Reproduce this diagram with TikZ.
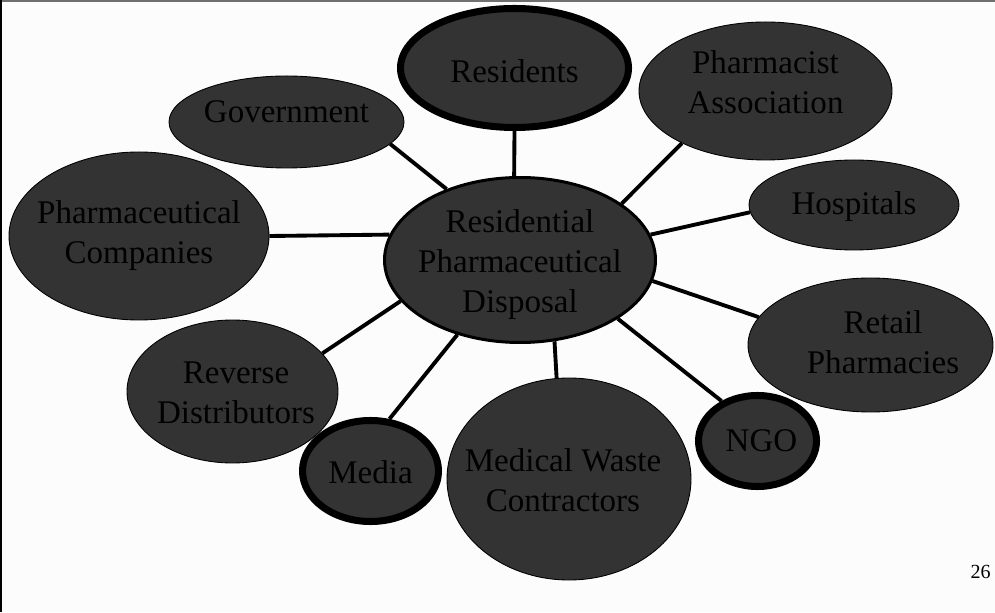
\documentclass[tikz,border=0pt]{standalone}
\usepackage{fontspec}
\setmainfont{Liberation Serif}
\usetikzlibrary{shapes}
\definecolor{bubble}{RGB}{51,51,51}
\definecolor{paper}{RGB}{252,252,252}
\definecolor{rim}{RGB}{112,112,112}
\tikzstyle{party} = [draw,ellipse,fill=bubble,inner sep=0,line width=0.5pt]
\tikzstyle{keyparty} = [party,line width=4pt]
\tikzstyle{hub} = [party,line width=1.7pt]
\tikzstyle{word} = [align=center,inner sep=0,font=\fontsize{18.8}{22.8}\selectfont]
\tikzstyle{link} = [-,line width=2.2pt]
\def \W {19.9}
\def \H {12.24}

\begin{document}
\begin{tikzpicture}
  \fill[paper] (0,0) rectangle (\W,\H);
  \useasboundingbox (0,0) rectangle (\W,\H);
  \fill[rim] (0,\H-0.04) rectangle (\W,\H);
  \fill[black] (0,0) rectangle (0.04,\H);

  \node[hub,minimum width=5.42cm,minimum height=3.30cm] (disp) at (10.40,7.04) {};
  \node[word] (disptxt) at ([yshift=-0.09cm]disp.center) {Residential\\Pharmaceutical\\Disposal};

  \node[keyparty,minimum width=4.56cm,minimum height=2.38cm] (res) at (10.29,10.88) {};
  \node[word] (restxt) at ([yshift=-0.06cm]res.center) {Residents};
  \node[party,minimum width=4.70cm,minimum height=1.84cm] (gov) at (5.73,9.80) {};
  \node[word] (govtxt) at ([yshift=0.20cm]gov.center) {Government};
  \node[party,minimum width=5.06cm,minimum height=2.76cm] (assoc) at (15.31,10.42) {};
  \node[word] (assoctxt) at ([yshift=0.18cm]assoc.center) {Pharmacist\\Association};
  \node[party,minimum width=4.20cm,minimum height=1.80cm] (hosp) at (17.08,8.14) {};
  \node[word] (hosptxt) at ([yshift=-0.04cm]hosp.center) {Hospitals};
  \node[party,minimum width=5.20cm,minimum height=3.36cm] (comp) at (2.78,7.52) {};
  \node[word] (comptxt) at (comp.center) {Pharmaceutical\\Companies};
  \node[party,minimum width=4.90cm,minimum height=2.68cm] (retail) at (17.41,5.34) {};
  \node[word] (retailtxt) at ([xshift=0.25cm,yshift=0.06cm]retail.center) {Retail\\Pharmacies};
  \node[keyparty,minimum width=2.36cm,minimum height=1.82cm] (ngo) at (15.15,3.42) {};
  \node[word] (ngotxt) at ([xshift=0.08cm]ngo.center) {NGO};
  \node[party,minimum width=4.22cm,minimum height=2.86cm] (rev) at (4.65,4.41) {};
  \node[word] (revtxt) at ([xshift=0.07cm,yshift=-0.03cm]rev.center) {Reverse\\Distributors};
  \node[keyparty,minimum width=2.72cm,minimum height=2.02cm] (media) at (7.41,2.82) {};
  \node[word] (mediatxt) at ([yshift=-0.03cm]media.center) {Media};
  \node[party,minimum width=4.88cm,minimum height=4.04cm] (waste) at (11.38,2.66) {};
  \node[word] (wastetxt) at ([xshift=-0.12cm,yshift=-0.03cm]waste.center) {Medical Waste\\Contractors};

  \node[font=\fontsize{11.4}{13}\selectfont] (page) at (19.61,0.80) {26};

  \draw[link] (disp.136.9) -- (gov.-12.9);
  \draw[link] (disp.94.1) -- (res.270);
  \draw[link] (disp.29.2) -- (assoc.212.9);
  \draw[link] (disp.11.1) -- (hosp.184.1);
  \draw[link] (disp.169.4) -- (comp.0);
  \draw[link] (disp.-9.9) -- (retail.166.7);
  \draw[link] (disp.-31.8) -- (ngo.132.4);
  \draw[link] (disp.-67) -- (waste.97.3);
  \draw[link] (disp.230.9) -- (media.70.1);
  \draw[link] (disp.199.4) -- (rev.23.8);
\end{tikzpicture}
\end{document}
